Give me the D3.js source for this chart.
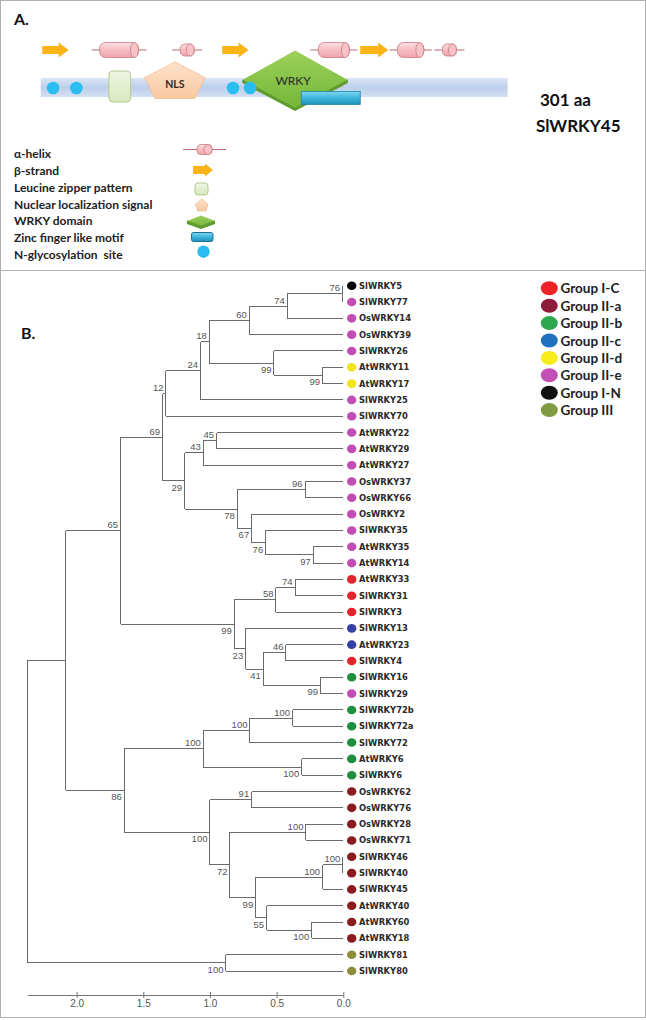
<!DOCTYPE html>
<html><head><meta charset="utf-8">
<script src="https://cdn.jsdelivr.net/npm/d3@7"></script>
<style>body{margin:0;background:#fff}svg{display:block}</style>
</head><body><svg id="c" width="646" height="1020"></svg>
<script>
// ---------- Panel A data (residue positions) ----------
const proteinLength = 301;
const proteinName = "SlWRKY45";
const strands = [[1,18],[117,134],[206,224]];
const helices = [[38,63],[90,99],[179,199],[230,247],[259,268]];
const glycoSites = [8,23,124,135];
const leucineZipper = [44,58];
const nlsRegion = [67,106];
const wrkyDomain = [130,198];
const zincFinger = [168,206];
const legendAItems = ["α-helix","β-strand","Leucine zipper pattern","Nuclear localization signal","WRKY domain","Zinc finger like motif","N-glycosylation  site"];

// ---------- Panel B data ----------
// node: [bootstrap, height, child1, child2]; leaf: name
const tree =
[null, 2.37,
  [null, 2.08,
    [65, 1.67,
      [69, 1.355,
        [12, 1.33,
          [24, 1.07,
            [18, 1.005,
              [60, 0.705,
                [74, 0.42,
                  [76, 0.005, "SlWRKY5", "SlWRKY77"],
                  "OsWRKY14"],
                "OsWRKY39"],
              [99, 0.52,
                "SlWRKY26",
                [99, 0.155, "AtWRKY11", "AtWRKY17"]]],
            "SlWRKY25"],
          "SlWRKY70"],
        [29, 1.19,
          [43, 1.05,
            [45, 0.95, "AtWRKY22", "AtWRKY29"],
            "AtWRKY27"],
          [78, 0.795,
            [96, 0.287, "OsWRKY37", "OsWRKY66"],
            [67, 0.687,
              "OsWRKY2",
              [76, 0.582,
                "SlWRKY35",
                [97, 0.225, "AtWRKY35", "AtWRKY14"]]]]]],
      [99, 0.818,
        [58, 0.505,
          [74, 0.362, "AtWRKY33", "SlWRKY31"],
          "SlWRKY3"],
        [23, 0.732,
          "SlWRKY13",
          [41, 0.60,
            [46, 0.43, "AtWRKY23", "SlWRKY4"],
            [99, 0.17, "SlWRKY16", "SlWRKY29"]]]]],
    [86, 1.643,
      [100, 1.05,
        [100, 0.70,
          [100, 0.38, "SlWRKY72b", "SlWRKY72a"],
          "SlWRKY72"],
        [100, 0.312, "AtWRKY6", "SlWRKY6"]],
      [100, 1.0,
        [91, 0.687, "OsWRKY62", "OsWRKY76"],
        [72, 0.85,
          [100, 0.28, "OsWRKY28", "OsWRKY71"],
          [99, 0.657,
            [100, 0.155,
              [100, 0.003, "SlWRKY46", "SlWRKY40"],
              "SlWRKY45"],
            [55, 0.575,
              "AtWRKY40",
              [100, 0.237, "AtWRKY60", "AtWRKY18"]]]]]]],
  [100, 0.88, "SlWRKY81", "SlWRKY80"]];

const leafGroups = ["I-N","II-e","II-e","II-e","II-e","II-d","II-d","II-e","II-e","II-e","II-e","II-e","II-e","II-e","II-e","II-e","II-e","II-e",
  "I-C","I-C","I-C","II-c","II-c","I-C","II-b","II-e","II-b","II-b","II-b","II-b","II-b",
  "II-a","II-a","II-a","II-a","II-a","II-a","II-a","II-a","II-a","II-a","III","III"];
const groupKeys = ["I-C","II-a","II-b","II-c","II-d","II-e","I-N","III"];
const groupLabels = ["Group I-C","Group II-a","Group II-b","Group II-c","Group II-d","Group II-e","Group I-N","Group III"];
const axisTicks = [2.0, 1.5, 1.0, 0.5, 0.0];

// ---------- styles ----------
const legendColors = {"I-C":"#ec2227","II-a":"#8e1a3c","II-b":"#2ea84f","II-c":"#2070c0","II-d":"#f6ec18","II-e":"#c24fb6","I-N":"#111111","III":"#7f9a40"};
const dotColors = {"I-C":"#e4242a","II-a":"#8b1b1f","II-b":"#1f8f3f","II-c":"#3441a2","II-d":"#f0e41e","II-e":"#c24db6","I-N":"#000000","III":"#8e8c3a"};

const svg = d3.select("#c");
const defs = svg.append("defs");
function grad(id, stops){
  const g = defs.append("linearGradient").attr("id",id).attr("x1",0).attr("y1",0).attr("x2",0).attr("y2",1);
  stops.forEach(([o,c])=>g.append("stop").attr("offset",o).attr("stop-color",c));
}
grad("gBar",[[0,"#dbe5f5"],[0.5,"#bccfea"],[1,"#d3dff2"]]);
grad("gHelix",[[0,"#fde0e2"],[0.5,"#f6bcc0"],[1,"#eea4aa"]]);
grad("gLeu",[[0,"#eef5e2"],[1,"#d9e8c0"]]);
grad("gNls",[[0,"#fde3cc"],[1,"#f9c8a0"]]);
grad("gZinc",[[0,"#7fd6f0"],[0.5,"#3cb6de"],[1,"#2390b8"]]);
grad("gWrky",[[0,"#9dd058"],[1,"#74b73a"]]);

// borders
svg.append("rect").attr("x",0.5).attr("y",0.5).attr("width",645).attr("height",1017).attr("fill","none").attr("stroke","#b0b0b0");
svg.append("line").attr("x1",0).attr("x2",646).attr("y1",270.5).attr("y2",270.5).attr("stroke","#b0b0b0");

// ---------- Panel A ----------
const A = svg.append("g");
A.append("text").attr("x",14).attr("y",25).text("A.").attr("font-family","Lato").attr("font-weight",700).attr("font-size",16).attr("fill","#111");

const aa = d3.scaleLinear().domain([0, proteinLength]).range([40.7, 507.6]);
const rowY = 50, barY0 = 78, barY1 = 97;

function drawArrow(g, x0, x1, cy, bodyH, headH, headL){
  const p = d3.path();
  p.moveTo(x0, cy-bodyH/2); p.lineTo(x1-headL, cy-bodyH/2); p.lineTo(x1-headL, cy-headH/2);
  p.lineTo(x1, cy); p.lineTo(x1-headL, cy+headH/2); p.lineTo(x1-headL, cy+bodyH/2); p.lineTo(x0, cy+bodyH/2); p.closePath();
  g.append("path").attr("d", p.toString()).attr("fill","#fbb416");
}
function drawHelix(g, x0, x1, cy, h, wh){
  g.append("line").attr("x1",x0-wh).attr("x2",x1+wh).attr("y1",cy).attr("y2",cy).attr("stroke","#b86a72").attr("stroke-width",1);
  g.append("rect").attr("x",x0).attr("y",cy-h/2).attr("width",x1-x0).attr("height",h).attr("rx",h/2.6).attr("fill","url(#gHelix)").attr("stroke","#c97a82").attr("stroke-width",0.8);
  const er = Math.min(4, (x1-x0)/3);
  g.append("ellipse").attr("cx",x1-er).attr("cy",cy).attr("rx",er).attr("ry",h/2).attr("fill","#f7c3c7").attr("stroke","#c97a82").attr("stroke-width",0.8);
}
function drawDiamond(g, x0, x1, yTop, yMid, yBot){
  const cx = (x0+x1)/2;
  g.append("path").attr("d",`M${x0},${yMid+3}L${cx},${yBot+3}L${x1},${yMid+3}L${x1},${yMid}L${cx},${yBot}L${x0},${yMid}Z`).attr("fill","#5e9a2c");
  g.append("path").attr("d",`M${x0},${yMid}L${cx},${yTop}L${x1},${yMid}L${cx},${yBot}Z`).attr("fill","url(#gWrky)");
  g.append("path").attr("d",`M${x0},${yMid}L${cx},${yBot}L${x1},${yMid}`).attr("fill","none").attr("stroke","#5f9c2e").attr("stroke-width",1);
}
function drawNls(g, x0, x1, y0, y1){
  const cx=(x0+x1)/2, w=x1-x0, ym=y0+(y1-y0)*0.43;
  g.append("path").attr("d",`M${cx},${y0}L${x1},${ym}L${x1-w*0.17},${y1}L${x0+w*0.17},${y1}L${x0},${ym}Z`).attr("fill","url(#gNls)").attr("stroke","#f2bb92").attr("stroke-width",0.8);
}

strands.forEach(([s,e]) => drawArrow(A, aa(s), aa(e), rowY, 8, 15, 10));
helices.forEach(([s,e]) => drawHelix(A, aa(s), aa(e), rowY, (aa(e)-aa(s))<20 ? 12 : 15, 8));

A.append("rect").attr("x",aa(0)).attr("y",barY0).attr("width",aa(proteinLength)-aa(0)).attr("height",barY1-barY0).attr("fill","url(#gBar)");
A.append("rect").attr("x",aa(leucineZipper[0])).attr("y",71).attr("width",aa(leucineZipper[1])-aa(leucineZipper[0])).attr("height",31).attr("rx",4).attr("fill","url(#gLeu)").attr("stroke","#b3c98c").attr("stroke-width",1);
drawNls(A, aa(nlsRegion[0]), aa(nlsRegion[1]), 62, 98.5);
A.append("text").attr("x",(aa(nlsRegion[0])+aa(nlsRegion[1]))/2).attr("y",84).attr("text-anchor","middle").attr("dominant-baseline","central").text("NLS").attr("font-family","Lato").attr("font-weight",700).attr("font-size",10.5).attr("fill","#3a2a20");
drawDiamond(A, aa(wrkyDomain[0]), aa(wrkyDomain[1]), 50.5, 80, 108);
A.append("text").attr("x",(aa(wrkyDomain[0])+aa(wrkyDomain[1]))/2 - 2).attr("y",80).attr("text-anchor","middle").attr("dominant-baseline","central").text("WRKY").attr("font-family","Lato").attr("font-size",12).attr("fill","#2a2a2a");
A.append("rect").attr("x",aa(zincFinger[0])).attr("y",91.5).attr("width",aa(zincFinger[1])-aa(zincFinger[0])).attr("height",13).attr("fill","url(#gZinc)").attr("stroke","#1f86ad").attr("stroke-width",0.8);
glycoSites.forEach(s => A.append("circle").attr("cx",aa(s)).attr("cy",88).attr("r",6.3).attr("fill","#2cbdf0"));

A.append("text").attr("x",540).attr("y",106).text(proteinLength+" aa").attr("font-family","Lato").attr("font-weight",700).attr("font-size",17).attr("fill","#111");
A.append("text").attr("x",536).attr("y",132).text(proteinName).attr("font-family","Lato").attr("font-weight",700).attr("font-size",17).attr("fill","#111");

// legend A
const legA = A.append("g");
legendAItems.forEach((t,i)=>{
  legA.append("text").attr("x",14).attr("y",153.3+i*16.9).attr("dominant-baseline","central").style("white-space","pre").text(t)
    .attr("font-family","Lato").attr("font-weight",700).attr("font-size",12).attr("fill","#222");
});
const ic = 203.5;
drawHelix(legA, 197, 212, 149.5, 10, 14);
drawArrow(legA, 193, 213, 170, 8, 13, 8);
legA.append("rect").attr("x",195).attr("y",183).attr("width",13).attr("height",12).attr("rx",3).attr("fill","url(#gLeu)").attr("stroke","#b3c98c");
drawNls(legA, 195.5, 208, 199, 211);
drawDiamond(legA, 187, 215, 215.5, 221, 226);
legA.append("rect").attr("x",191.5).attr("y",232.5).attr("width",21.5).attr("height",9).attr("rx",2).attr("fill","url(#gZinc)").attr("stroke","#1f6f96");
legA.append("circle").attr("cx",ic).attr("cy",251.7).attr("r",6.2).attr("fill","#2cbdf0");

// ---------- Panel B ----------
const B = svg.append("g");
B.append("text").attr("x",21).attr("y",339).text("B.").attr("font-family","Lato").attr("font-weight",700).attr("font-size",16).attr("fill","#111");

const root = d3.hierarchy(tree, d => Array.isArray(d) ? d.slice(2) : null);
const leaves = root.leaves();
const x = d3.scaleLinear().domain([0, 2.37]).range([343.3, 27.3]);
const y = d3.scaleLinear().domain([0, leaves.length-1]).range([285.7, 971]);
leaves.forEach((l,i)=>{ l.idx = i; });
root.eachAfter(n => {
  n.h = Array.isArray(n.data) ? n.data[1] : 0;
  n.yy = n.children ? (n.children[0].yy + n.children[n.children.length-1].yy)/2 : y(n.idx);
});

const lines = B.append("g").attr("stroke","#6a6a6a").attr("stroke-width",1).attr("fill","none").attr("shape-rendering","crispEdges");
lines.selectAll("path.h").data(root.links()).join("path").attr("class","h")
  .attr("d", l => `M${x(l.source.h)},${l.target.yy}H${x(l.target.h)}`);
lines.selectAll("path.v").data(root.descendants().filter(n=>n.children)).join("path").attr("class","v")
  .attr("d", n => `M${x(n.h)},${n.children[0].yy}V${n.children[n.children.length-1].yy}`);

// bootstrap labels
B.append("g").selectAll("text").data(root.descendants().filter(n => n.children && n.data[0] != null)).join("text")
  .attr("x", n => x(n.h) - 2.5)
  .attr("y", n => n.yy + (n.parent && n.parent.children[0] === n ? -6 : 6.5))
  .attr("text-anchor","end").attr("dominant-baseline","central")
  .attr("font-family","Liberation Sans").attr("font-size",9.5).attr("fill","#555")
  .text(n => n.data[0]);

// leaf dots & labels
const lg = B.append("g");
lg.selectAll("ellipse").data(leaves).join("ellipse")
  .attr("cx",351.7).attr("cy",d=>d.yy).attr("rx",4.7).attr("ry",4.3)
  .attr("fill",d=>dotColors[leafGroups[d.idx]]);
lg.selectAll("text").data(leaves).join("text")
  .attr("x",359).attr("y",d=>d.yy).attr("dominant-baseline","central")
  .attr("font-family","DejaVu Sans").attr("font-weight",700).attr("font-size",8.4).attr("fill","#2a2a2a")
  .text(d=>d.data);

// axis
const ax = B.append("g").attr("transform","translate(0,995)")
  .call(d3.axisBottom(x).tickValues(axisTicks).tickFormat(d3.format(".1f")).tickSizeInner(3).tickSizeOuter(0).tickPadding(2));
ax.select(".domain").attr("stroke","#777");
ax.selectAll(".tick line").attr("stroke","#777").attr("y1",-3);
ax.selectAll(".tick text").attr("font-family","Liberation Sans").attr("font-size",10).attr("fill","#555");

// legend B
const legB = B.append("g");
groupKeys.forEach((k,i)=>{
  const cy = 288.3 + i*17.4;
  legB.append("ellipse").attr("cx",549.3).attr("cy",cy).attr("rx",8.5).attr("ry",7).attr("fill",legendColors[k]);
  legB.append("text").attr("x",560.5).attr("y",cy).attr("dominant-baseline","central").text(groupLabels[i])
    .attr("font-family","Lato").attr("font-weight",700).attr("font-size",13.5).attr("fill","#222");
});
</script></body></html>
